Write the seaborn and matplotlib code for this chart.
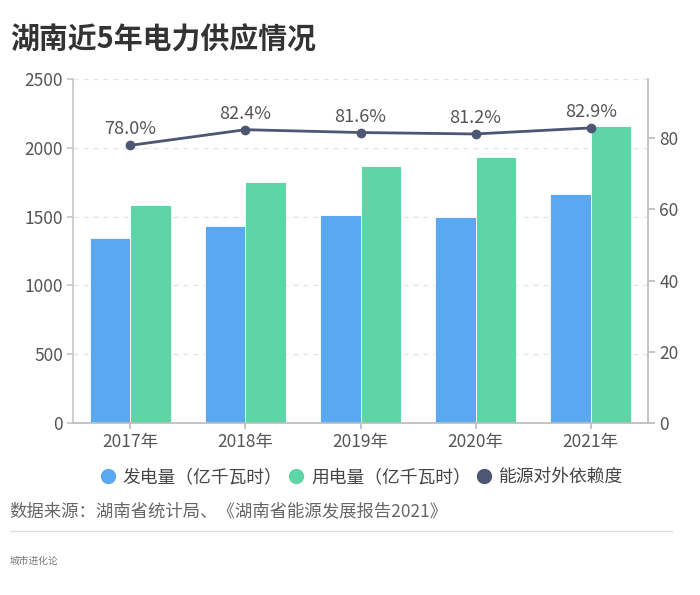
import numpy as np
import pandas as pd
import matplotlib
matplotlib.use("Agg")
import matplotlib.pyplot as plt
import seaborn as sns
from matplotlib.lines import Line2D

years = ["2017年", "2018年", "2019年", "2020年", "2021年"]
generation = [1344, 1436, 1509, 1499, 1662]
consumption = [1584, 1749, 1869, 1932, 2160]
dependence = [78.0, 82.4, 81.6, 81.2, 82.9]
series_names = ["发电量（亿千瓦时）", "用电量（亿千瓦时）", "能源对外依赖度"]
left_ticks = [0, 500, 1000, 1500, 2000, 2500]
right_ticks = [0, 20, 40, 60, 80]

c_blue = "#5aa8ef"
c_green = "#5dd5a7"
c_dark = "#4d5673"
c_text = "#555555"

sns.set_theme(style="white")
plt.rcParams["font.family"] = ["Noto Sans CJK SC", "DejaVu Sans"]

df = pd.DataFrame({
    "year": years * 2,
    "value": generation + consumption,
    "series": [series_names[0]] * len(years) + [series_names[1]] * len(years),
})

fig = plt.figure(figsize=(7, 5.95), dpi=100)
ax = fig.add_axes([0.104, 0.289, 0.822, 0.578])

sns.barplot(data=df, x="year", y="value", hue="series",
            palette=[c_blue, c_green], width=0.7, ax=ax,
            saturation=1, linewidth=0.6, edgecolor="white", legend=False)
ax.set_xlim(-0.5, 4.5)
ax.set_ylim(0, 2500)
ax.set_yticks(left_ticks)
ax.set_xlabel("")
ax.set_ylabel("")
ax.grid(axis="y", linestyle=(0, (4, 4)), color="#e3e3e3", linewidth=0.9)
ax.set_axisbelow(True)
for s in ["top", "right"]:
    ax.spines[s].set_visible(False)
ax.spines["left"].set_color("#c8c8c8")
ax.spines["bottom"].set_color("#bdbdbd")
ax.tick_params(axis="y", colors=c_text, labelsize=12.5, length=4, color="#c8c8c8", direction="out", left=True, pad=3)
ax.tick_params(axis="x", colors=c_text, labelsize=12.5, length=4, color="#bdbdbd", bottom=True, pad=3)

ax2 = ax.twinx()
xs = np.arange(len(years))
sns.lineplot(x=xs, y=dependence, ax=ax2, color=c_dark, linewidth=2.0,
             marker="o", markersize=7, markeredgecolor=c_dark, markeredgewidth=0)
ax2.set_ylim(0, 96.6)
ax2.set_yticks(right_ticks)
ax2.set_ylabel("")
for s in ["top", "left", "bottom"]:
    ax2.spines[s].set_visible(False)
ax2.spines["right"].set_color("#bdbdbd")
ax2.tick_params(axis="y", colors=c_text, labelsize=12.5, length=5, color="#bdbdbd", right=True, pad=3)
ax2.grid(False)
for x, v in zip(xs, dependence):
    ax2.annotate(f"{v:.1f}%", (x, v), xytext=(0, 5), textcoords="offset points",
                 ha="center", va="bottom", fontsize=13, color=c_text)

fig.text(0.014, 0.933, "湖南近5年电力供应情况", fontsize=20.8, fontweight="bold", color="#333333", va="center")

handles = [Line2D([0], [0], marker="o", linestyle="", markersize=10, color=c)
           for c in [c_blue, c_green, c_dark]]
fig.legend(handles, series_names, loc="center", bbox_to_anchor=(0.516, 0.198), ncol=3,
           frameon=False, fontsize=12.8, handletextpad=0.35, handlelength=1.0, columnspacing=0.25,
           labelcolor="#444444")

fig.text(0.014, 0.141, "数据来源：湖南省统计局、《湖南省能源发展报告2021》", fontsize=12.5, color="#666666", va="center")
fig.add_artist(Line2D([0.014, 0.96], [0.107, 0.107], color="#dddddd", linewidth=1))
fig.text(0.014, 0.058, "城市进化论", fontsize=7, color="#777777", va="center")

fig.savefig("out.png", dpi=100)
